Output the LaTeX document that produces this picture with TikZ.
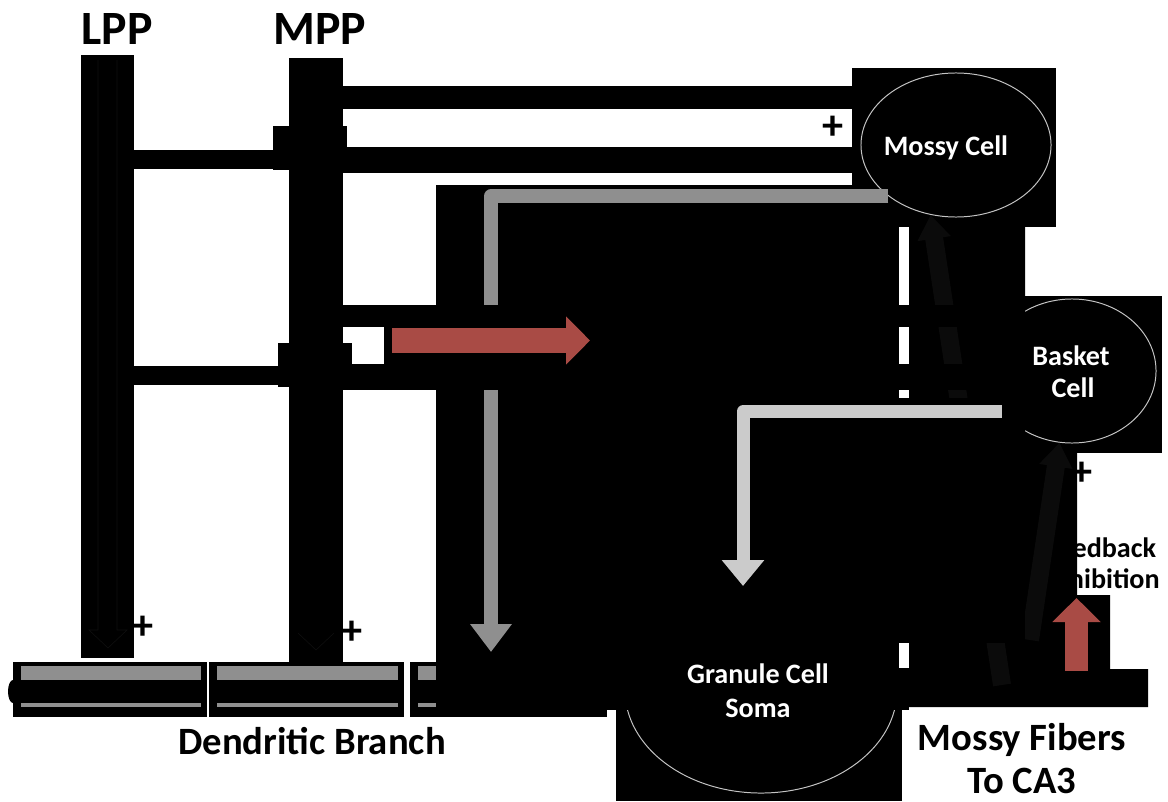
\documentclass[tikz,border=0pt]{standalone}
\usepackage{fontspec}
\setmainfont{Carlito}
\usetikzlibrary{arrows.meta, positioning, shapes.geometric}
\definecolor{cred}{HTML}{A94B45}
\definecolor{cgrey}{HTML}{8F8F8F}
\definecolor{clight}{HTML}{CBCBCB}
\definecolor{cdark}{HTML}{0B0B0B}
\definecolor{crim}{HTML}{C4C4C4}
\tikzset{
  every picture/.style={font=\bfseries},
  cell/.style={ellipse, draw=crim, line width=0.7pt, inner sep=0pt},
  head/.style={anchor=base, font=\fontsize{34}{40}\selectfont\bfseries},
  tag/.style={anchor=base, inner sep=0pt, font=\fontsize{27.5}{32}\selectfont\bfseries},
  note/.style={anchor=base, font=\fontsize{20}{24}\selectfont\bfseries},
  celltag/.style={note, text=white},
  plus/.style={font=\fontsize{30}{30}\selectfont\bfseries, inner sep=0pt},
}

\begin{document}
\begin{tikzpicture}[x=0.025cm, y=-0.025cm,
  greyarrow/.style={draw=cgrey, line width=0.35cm, line join=round, -{Triangle[width=1cm, length=0.7cm]}},
  lightarrow/.style={draw=clight, line width=0.325cm, line join=round, -{Triangle[width=1.025cm, length=0.65cm]}},
  redarrow/.style={draw=cred, line width=#1, -{Triangle[width=1.175cm, length=0.6cm]}},
  darkarrow/.style={draw=cdark, line width=0.45cm, -{Triangle[width=0.8cm, length=0.6cm]}},
  ghost/.style={draw=black!94, line width=0.4pt}]
  \useasboundingbox (0,0) rectangle (1168,801);
  \node[note] (fb1) at (1101,557) {Feedback};
  \node[note] (fb2) at (1103,588) {Inhibition};
  \foreach \a/\b in {13/207, 209/404, 410/607} {
    \fill (\a,662) rectangle (\b,717);
    \fill[cgrey] (\a+8,666) rectangle (\b-6,707);
    \fill (\a,680) rectangle (\b,703);
  }
  \fill (13,691.5) ellipse (5 and 11.5);
  \fill (616,700) rectangle (902,801);
  \node[cell, minimum width=6.8cm, minimum height=5.15cm] (soma) at (761,690) {};
  \fill (436,185) rectangle (607,717);
  \fill (607,185) rectangle (899,710);
  \fill (852,68) rectangle (1056,227);
  \node[cell, minimum width=4.75cm, minimum height=3.6cm] (mossy) at (956,145) {};
  \fill (1025,296) rectangle (1162,453);
  \node[cell, minimum width=4.2cm, minimum height=3.6cm] (basket) at (1072,371) {};
  \fill (909,227) -- (1025,227) -- (1025,453) -- (1077,453) -- (1077,595) -- (1110,595)
    -- (1110,669) -- (1148,669) -- (1148,707) -- (909,707) -- cycle;
  \fill (81,55) rectangle (134,658);
  \fill (289,58) rectangle (343,662);
  \fill (134,150) rectangle (289,169);
  \fill (134,366) rectangle (289,385);
  \fill (273,126) rectangle (347,170);
  \fill (343,86) rectangle (855,109);
  \fill (343,147) rectangle (855,173);
  \draw[ghost] (98,60) -- (98,630) -- (89,630) -- (108,648) -- (127,630) -- (117,630) -- (117,60);
  \draw[ghost] (298,633) -- (316,650) -- (334,633);
  \coordinate (g1tip) at (491,652);
  \draw[greyarrow] (mossy.south west) -| (g1tip);
  \coordinate (d1s) at (1002,685);
  \coordinate (d2s) at (1030,640);
  \draw[darkarrow] (d1s) -- (mossy.250);
  \draw[darkarrow] (d2s) -- (basket.260);
  \fill (343,305) rectangle (1025,327);
  \fill (343,364) rectangle (1025,390);
  \fill (384,327) rectangle (899,364);
  \fill (899,398) rectangle (1025,643);
  \fill (899,668) rectangle (909,710);
  \fill (278,343) rectangle (352,387);
  \coordinate (g2tip) at (743,586);
  \draw[lightarrow] (basket.210) -| (g2tip);
  \coordinate (r1s) at (392,340.5);
  \coordinate (r1e) at (590,340.5);
  \draw[redarrow=0.625cm] (r1s) -- (r1e);
  \coordinate (r2s) at (1076.5,671);
  \coordinate (r2e) at (1076.5,598);
  \draw[redarrow=0.575cm] (r2s) -- (r2e);
  \node[head] (lpp) at (117,45) {LPP};
  \node[head] (mpp) at (320,45) {MPP};
  \node[celltag] (mossytag) at (946,156) {Mossy Cell};
  \node[celltag] (bask1) at (1071,365) {Basket};
  \node[celltag] (bask2) at (1073,397) {Cell};
  \node[celltag] (gran1) at (758,683) {Granule Cell};
  \node[celltag] (gran2) at (758,717) {Soma};
  \node[tag] (dend) at (312,754) {Dendritic Branch};
  \node[tag] (mf1) at (1022,750) {Mossy Fibers};
  \node[tag] (mf2) at (1022,793) {To CA3};
  \foreach \x/\y [count=\i] in {143/628, 352/633, 833/128, 1082/474}
    \node[plus] (p\i) at (\x,\y) {+};
\end{tikzpicture}
\end{document}
